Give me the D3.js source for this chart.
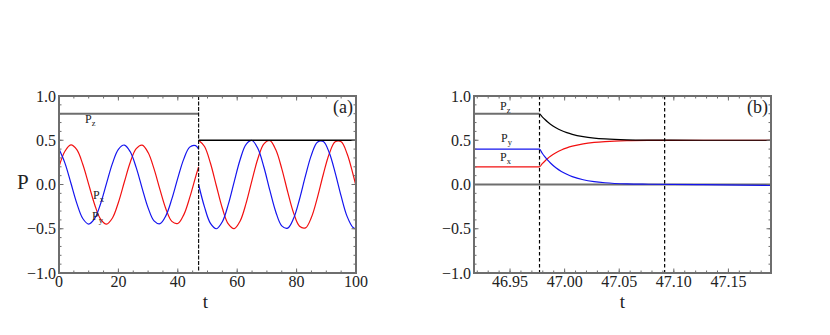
<!DOCTYPE html>
<html><head><meta charset="utf-8">
<script src="https://cdn.jsdelivr.net/npm/d3@7"></script>
<style>body{margin:0;background:#fff} svg text{font-family:"Liberation Serif","Tinos","Times New Roman","Nimbus Roman","DejaVu Serif",serif;}</style>
</head><body><svg id="c" width="830" height="335"></svg>
<script>
// ---------- data ----------
// panel (a), before the switch at t = 47
const tA1  = [0,2,4,6,8,10,12,14,16,18,20,22,24,26,28,30,32,34,36,38,40,42,44,46,47];
const pxA1 = [0.200,0.376,0.447,0.393,0.229,0.002,-0.226,-0.391,-0.447,-0.378,-0.203,0.028,0.252,0.405,0.445,0.361,0.176,-0.058,-0.276,-0.417,-0.441,-0.343,-0.149,0.087,0.200];
const pyA1 = [0.400,0.242,0.017,-0.213,-0.384,-0.447,-0.386,-0.217,0.013,0.239,0.398,0.446,0.370,0.190,-0.043,-0.264,-0.411,-0.443,-0.352,-0.163,0.072,0.287,0.422,0.439,0.400];
const tPzA1 = [0,47];
const pzA1  = [0.8,0.8];
// panel (a), after the switch
const tA2  = [47,49,51,53,55,57,59,61,63,65,67,69,71,73,75,77,79,81,83,85,87,89,91,93,95,97,99,100];
const pxA2 = [0.500,0.430,0.240,-0.017,-0.269,-0.446,-0.499,-0.412,-0.211,0.050,0.297,0.460,0.496,0.392,0.180,-0.083,-0.323,-0.472,-0.490,-0.371,-0.148,0.116,0.348,0.482,0.482,0.348,0.116,-0.017];
const pyA2 = [0.000,-0.255,-0.439,-0.500,-0.421,-0.225,0.033,0.283,0.454,0.497,0.403,0.195,-0.067,-0.310,-0.467,-0.493,-0.382,-0.164,0.100,0.335,0.478,0.486,0.359,0.132,-0.132,-0.360,-0.486,-0.500];
const tPzA2 = [47,100];
const pzA2  = [0.5,0.5];
const switchA = [47];

// panel (b): zoom around the switch
const tB  = [46.917,46.977,46.9795,46.982,46.9845,46.987,46.992,46.997,47.002,47.007,47.017,47.027,47.037,47.057,47.077,47.127,47.189];
const pzB = [0.8,0.8,0.765,0.734,0.706,0.682,0.642,0.610,0.586,0.567,0.541,0.525,0.515,0.505,0.502,0.500,0.500];
const pxB = [0.2,0.2,0.235,0.266,0.294,0.318,0.358,0.390,0.414,0.433,0.459,0.475,0.485,0.495,0.498,0.500,0.500];
const pyB = [0.4,0.4,0.353,0.312,0.275,0.243,0.189,0.147,0.115,0.089,0.054,0.033,0.020,0.007,0.003,-0.002,-0.010];
const dashB = [46.977,47.0916];
const zeroB = [0];

// axes
const yTicks  = [-1,-0.5,0,0.5,1];
const xTicksA = [0,20,40,60,80,100];
const xTicksB = [46.95,47.00,47.05,47.10,47.15];
const domainA = [0,100];
const domainB = [46.917,47.189];

// ---------- drawing ----------
const svg = d3.select("#c");
const yTop = 96, yBot = 273;
const y = d3.scaleLinear().domain([-1,1]).range([yBot, yTop]);
const xA = d3.scaleLinear().domain(domainA).range([59, 356]);
const xB = d3.scaleLinear().domain(domainB).range([474, 771]);

const gray = "#6e6e6e", RED = "#f21010", BLUE = "#1414ee";

function clip(id, x) {
  svg.append("clipPath").attr("id", id).append("rect")
    .attr("x", x.range()[0]).attr("y", yTop).attr("width", x.range()[1]-x.range()[0]).attr("height", yBot-yTop);
}
clip("ca", xA); clip("cb", xB);

function line(g, x, ts, vs, color, w, curve) {
  const pts = ts.map((t,i)=>[t, vs[i]]);
  g.append("path").datum(pts)
    .attr("d", d3.line().x(d=>x(d[0])).y(d=>y(d[1])).curve(curve || d3.curveLinear))
    .attr("fill","none").attr("stroke",color).attr("stroke-width",w);
}

function frame(x, xTicks, xMinor, fmt, label, tOffset) {
  const [x0,x1] = x.range();
  const g = svg.append("g");
  const T = (x1a,y1a,x2a,y2a)=> g.append("line").attr("x1",x1a).attr("y1",y1a).attr("x2",x2a).attr("y2",y2a)
      .attr("stroke",gray).attr("stroke-width",1);
  xMinor.forEach(v=>{ const px=x(v); T(px,yBot,px,yBot-2.5); T(px,yTop,px,yTop+2.5); });
  xTicks.forEach(v=>{ const px=x(v); T(px,yBot,px,yBot-4.5); T(px,yTop,px,yTop+4.5); });
  d3.range(-10,11).forEach(k=>{ const py=y(k/10); T(x0,py,x0+2.5,py); T(x1,py,x1-2.5,py); });
  yTicks.forEach(v=>{ const py=y(v); T(x0,py,x0+4.5,py); T(x1,py,x1-4.5,py); });
  g.append("rect").attr("x",x0).attr("y",yTop).attr("width",x1-x0).attr("height",yBot-yTop)
    .attr("fill","none").attr("stroke",gray).attr("stroke-width",2);
  yTicks.forEach(v=>{
    g.append("text").attr("x",x0-3).attr("y",y(v)+5.5).attr("text-anchor","end")
      .attr("font-size",16).attr("fill","#222")
      .text((v<0?"\u2212":"")+Math.abs(v).toFixed(1));
  });
  xTicks.forEach(v=>{
    g.append("text").attr("x",x(v)).attr("y",yBot+14).attr("text-anchor","middle")
      .attr("font-size",16).attr("fill","#222").text(fmt(v));
  });
  g.append("text").attr("x",(x0+x1)/2+tOffset).attr("y",308).attr("text-anchor","middle")
    .attr("font-size",19).attr("fill","#222").text("t");
  g.append("text").attr("x",x1-3).attr("y",yTop+17).attr("text-anchor","end")
    .attr("font-size",18).attr("fill","#222").text(label);
}

function sub(x0, y0, main, s) {
  const t = svg.append("text").attr("x",x0).attr("y",y0)
    .attr("font-size",12).attr("fill","#222");
  t.append("tspan").text(main);
  t.append("tspan").attr("dy",3).attr("font-size",8.5).text(s);
}

// ----- panel (a)
const gA = svg.append("g").attr("clip-path","url(#ca)");
line(gA, xA, tA1, pxA1, RED, 1.2, d3.curveCatmullRom);
line(gA, xA, tA1, pyA1, BLUE, 1.2, d3.curveCatmullRom);
line(gA, xA, tA2, pxA2, RED, 1.2, d3.curveCatmullRom);
line(gA, xA, tA2, pyA2, BLUE, 1.2, d3.curveCatmullRom);
line(gA, xA, tPzA1, pzA1, gray, 2);
line(gA, xA, tPzA2, pzA2, "#000", 1.3);
switchA.forEach(t=>{
  gA.append("line").attr("x1",xA(t)).attr("x2",xA(t)).attr("y1",yTop).attr("y2",yBot)
    .attr("stroke","#111").attr("stroke-width",1.2).attr("stroke-dasharray","4,1.5");
});
frame(xA, xTicksA, d3.range(0,101,5), d=>String(d), "(a)", -2);

// ----- panel (b)
const gB = svg.append("g").attr("clip-path","url(#cb)");
zeroB.forEach(v=>{
  gB.append("line").attr("x1",xB.range()[0]).attr("x2",xB.range()[1]).attr("y1",y(v)).attr("y2",y(v))
    .attr("stroke",gray).attr("stroke-width",2);
});
line(gB, xB, tB, pxB, RED, 1.2, d3.curveMonotoneX);
line(gB, xB, tB, pyB, BLUE, 1.2, d3.curveMonotoneX);
line(gB, xB, tB.slice(1), pzB.slice(1), "#000", 1.2, d3.curveMonotoneX);
line(gB, xB, tB.slice(0,2), pzB.slice(0,2), gray, 2);
dashB.forEach(t=>{
  gB.append("line").attr("x1",xB(t)).attr("x2",xB(t)).attr("y1",yTop).attr("y2",yBot)
    .attr("stroke","#000").attr("stroke-width",1.2).attr("stroke-dasharray","3.5,2.5");
});
frame(xB, xTicksB, d3.range(4692,4719).map(v=>v/100), d=>d.toFixed(2), "(b)", 0);

// y-axis title
svg.append("text").attr("x",17).attr("y",189).attr("font-size",21)
  .attr("fill","#222").text("P");

// curve labels
sub(85, 123, "P", "z");
sub(93, 199, "P", "x");
sub(92, 220, "P", "y");
sub(500, 110, "P", "z");
sub(501, 142, "P", "y");
sub(500, 161, "P", "x");
</script></body></html>
